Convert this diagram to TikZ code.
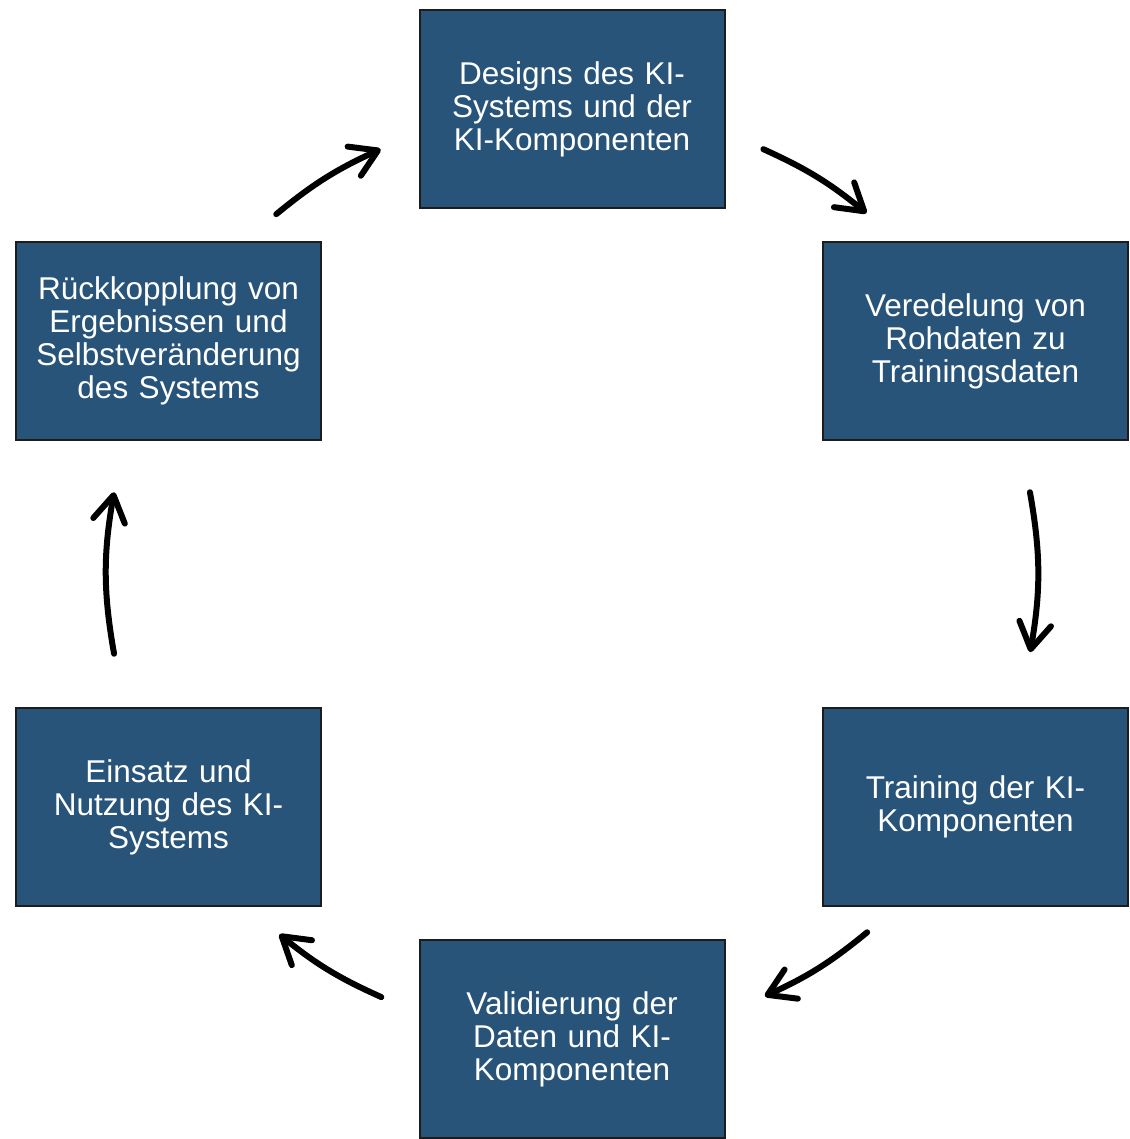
\documentclass[tikz,border=0pt]{standalone}
\usepackage{fontspec}
\setmainfont{Liberation Sans}
\usepackage{tikz}
\usetikzlibrary{arrows.meta, positioning, calc}
\definecolor{BoxBlue}{HTML}{28547A}
\definecolor{EdgeDark}{HTML}{1C1C1C}

\begin{document}
\begin{tikzpicture}[
    x=1pt, y=1pt,
    font=\fontsize{31.5}{33}\selectfont,
    box/.style={rectangle, draw=EdgeDark, fill=BoxBlue, text=white, line width=2pt, minimum width=305pt, minimum height=198pt, text width=295pt, align=center, inner sep=0pt},
    arr/.style={-{Straight Barb[length=26pt, width=32pt, round]}, line width=6pt, line cap=round, black}
]
    \useasboundingbox (0,0) rectangle (1129,1139);

    % Cycle stages
    \node[box] (design) at (572,1030) {Designs des KI-\\Systems und der\\KI-Komponenten};
    \node[box] (refine) at (975.5,798) {Veredelung von\\Rohdaten zu\\Trainingsdaten};
    \node[box] (train) at (975.5,332) {Training der KI-\\Komponenten};
    \node[box] (valid) at (572,99.5) {Validierung der\\Daten und KI-\\Komponenten};
    \node[box] (deploy) at (168.5,332) {Einsatz und\\Nutzung des KI-\\Systems};
    \node[box] (feedback) at (168.5,798) {Rückkopplung von\\Ergebnissen und\\Selbstveränderung\\des Systems};

    % Ring for the arrows
    \coordinate (hub) at (572,566);
    \foreach \s/\e/\n in {129.5/114.3/a, 65.7/50.7/b, 10/-9.8/c, -50.6/-65.5/d, -114.2/-129/e, 190/170/f}{
        \coordinate (\n s) at ($(hub)+(\s:465)$);
        \coordinate (\n e) at ($(hub)+(\e:465)$);
    }

    % Connections
    \draw[arr] (as) to[bend left=7.5] (ae);
    \draw[arr] (bs) to[bend left=7.5] (be);
    \draw[arr] (cs) to[bend left=10] (ce);
    \draw[arr] (ds) to[bend left=7.5] (de);
    \draw[arr] (es) to[bend left=7.5] (ee);
    \draw[arr] (fs) to[bend left=10] (fe);
\end{tikzpicture}
\end{document}
